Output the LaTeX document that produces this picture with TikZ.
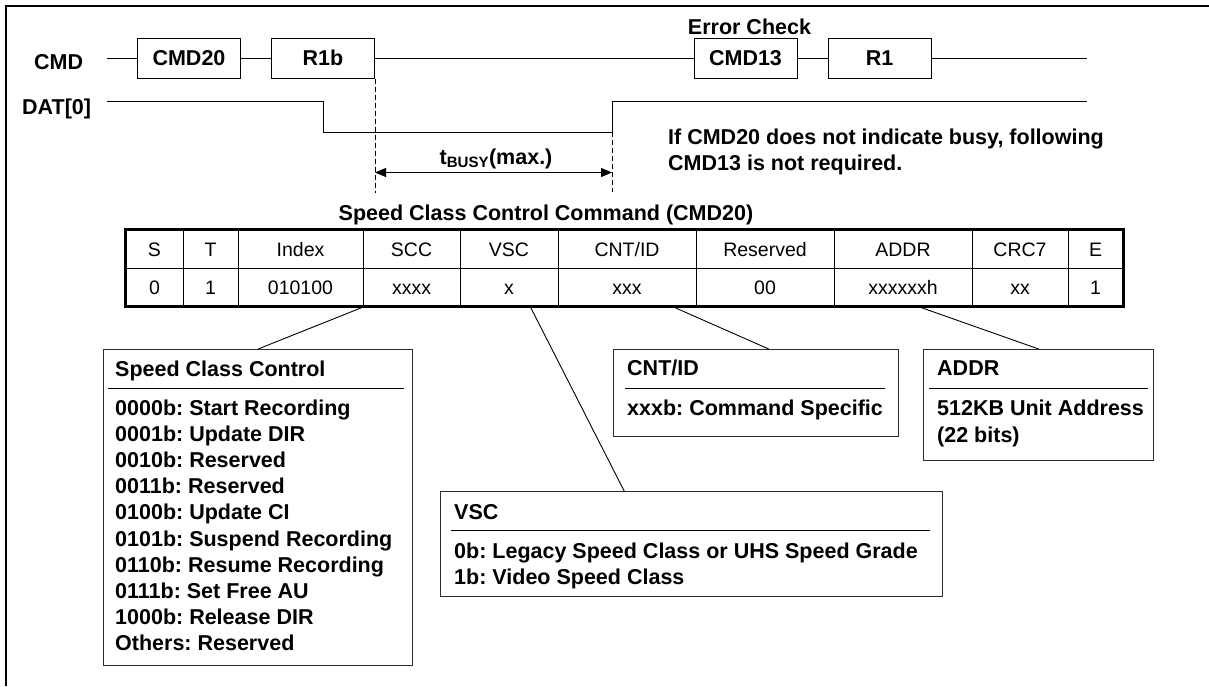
\documentclass[tikz,border=0pt]{standalone}
\usepackage{fontspec}
\setmainfont{Liberation Sans}
\usepackage{tikz}
\usetikzlibrary{arrows.meta,calc}
\frenchspacing
\newcommand{\labfont}{\fontsize{21.5}{26}\selectfont\bfseries}
\newcommand{\cellfont}{\fontsize{19.5}{23}\selectfont}
\definecolor{boxgray}{RGB}{45,45,45}
\tikzset{
  wire/.style={black, line width=1pt},
  busyedge/.style={black, line width=1pt, dash pattern=on 5pt off 3pt},
  outerframe/.style={black, line width=1.6pt},
  packet/.style={draw=black, line width=1pt, minimum width=103pt,
                 minimum height=40pt, inner sep=0pt, font=\labfont,
                 text height=15pt, text depth=0pt},
  lab/.style={font=\labfont, inner sep=0pt, text height=15pt, text depth=0pt},
  cell/.style={draw=black, line width=1pt, minimum height=38pt,
               inner sep=0pt, font=\cellfont, text height=14pt, text depth=0pt},
  fieldframe/.style={black, line width=2.2pt},
  infobox/.style={draw=boxgray, line width=1.2pt, anchor=north west, inner sep=0pt},
  boxline/.style={lab, anchor=west},
  rulesep/.style={black, line width=1pt},
  callout/.style={black, line width=0.9pt},
  busyspan/.style={{Triangle[length=11pt,width=9pt]}-{Triangle[length=11pt,width=9pt]},
                   line width=1pt},
}

\begin{document}
\begin{tikzpicture}[x=1pt,y=-1pt]
  \path[use as bounding box] (0,0) rectangle (1209,686);
  \draw[outerframe] (6,686) -- (6,6) -- (1209,6);

  % Bus timing.
  \node[lab, anchor=west] (cmdlab) at (34,62) {CMD};
  \node[lab, anchor=west] (datlab) at (22,107) {DAT[0]};
  \coordinate (cmdstart) at (107,58);
  \coordinate (cmdend) at (1087,58);
  \node[packet] (cmd20) at (189,58) {CMD20};
  \node[packet] (r1b) at (323,58) {R1b};
  \node[packet] (cmd13) at (745.5,58) {CMD13};
  \node[packet] (r1) at (879.5,58) {R1};
  \node[lab] (errcheck) at (749.5,27) {Error Check};
  \draw[wire] (cmdstart) -- (cmd20) -- (r1b) -- (cmd13) -- (r1) -- (cmdend);

  \coordinate (datstart) at (107,101);
  \coordinate (datfall) at (323,101);
  \coordinate (datrise) at (612,132);
  \coordinate (datend) at (1087,101);
  \draw[wire] (datstart) -- (datfall) |- (datrise) |- (datend);

  \draw[busyedge] (r1b.south east) -- ++(0,114);
  \draw[busyedge] (datrise) -- ++(0,60);
  \coordinate (tbusyl) at ($(r1b.south east)+(0,94)$);
  \coordinate (tbusyr) at (datrise |- tbusyl);
  \draw[busyspan] (tbusyl) -- (tbusyr);
  \node[lab] (tbusy) at (496,157) {t\textsubscript{BUSY}(max.)};

  \node[font=\labfont, align=left, anchor=north west, inner sep=0pt] (note) at (668,129)
    {If CMD20 does not indicate busy, following\\
     CMD13 is not required.};

  % Argument fields of CMD20.
  \node[lab] (tabtitle) at (546,213) {Speed Class Control Command (CMD20)};
  \foreach \nm/\hd/\val/\xa/\xb in {s/S/0/126/183, t/T/1/183/238,
      idx/Index/010100/238/363, scc/SCC/xxxx/363/460, vsc/VSC/x/460/558,
      cnt/{CNT/ID}/xxx/558/696, rsv/Reserved/00/696/834,
      addr/ADDR/xxxxxxh/834/972, crc/CRC7/xx/972/1068, e/E/1/1068/1123}{
    \node[cell, minimum width={(\xb-\xa)*1pt}] (h\nm) at ({(\xa+\xb)/2},249) {\hd};
    \node[cell, minimum width={(\xb-\xa)*1pt}] (v\nm) at ({(\xa+\xb)/2},287) {\val};
  }
  \draw[fieldframe] (hs.north west) rectangle (ve.south east);

  % Speed Class Control box.
  \node[infobox, minimum width=309pt, minimum height=316pt] (sccbox) at (103,349) {};
  \node[boxline] (scctitle) at (115,369) {Speed Class Control};
  \draw[rulesep] ([xshift=5pt,yshift=-39pt]sccbox.north west)
    -- ([xshift=-9pt,yshift=-39pt]sccbox.north east);
  \foreach \txt [count=\i from 0] in {0000b: Start Recording, 0001b: Update DIR,
      0010b: Reserved, 0011b: Reserved, 0100b: Update CI,
      0101b: Suspend Recording, 0110b: Resume Recording,
      0111b: Set Free AU, 1000b: Release DIR, Others: Reserved}
    \node[boxline] (sccl\i) at (115,{408+26.1*\i}) {\txt};

  % CNT/ID box.
  \node[infobox, minimum width=285pt, minimum height=87pt] (cntbox) at (613,349) {};
  \node[boxline] (cnttitle) at (627,368) {CNT/ID};
  \draw[rulesep] ([xshift=12pt,yshift=-39pt]cntbox.north west)
    -- ([xshift=-14pt,yshift=-39pt]cntbox.north east);
  \node[boxline] (cntl0) at (627,408) {xxxb: Command Specific};

  % ADDR box.
  \node[infobox, minimum width=230pt, minimum height=111pt] (addrbox) at (923,349) {};
  \node[boxline] (addrtitle) at (937,368) {ADDR};
  \draw[rulesep] ([xshift=6pt,yshift=-39pt]addrbox.north west)
    -- ([xshift=-6pt,yshift=-39pt]addrbox.north east);
  \node[boxline] (addrl0) at (937,408) {512KB Unit Address};
  \node[boxline] (addrl1) at (937,435) {(22 bits)};

  % VSC box.
  \node[infobox, minimum width=502pt, minimum height=105pt] (vscbox) at (440,491) {};
  \node[boxline] (vsctitle) at (454,512) {VSC};
  \draw[rulesep] ([xshift=11pt,yshift=-39pt]vscbox.north west)
    -- ([xshift=-13pt,yshift=-39pt]vscbox.north east);
  \node[boxline] (vscl0) at (454,551) {0b: Legacy Speed Class or UHS Speed Grade};
  \node[boxline] (vscl1) at (454,577) {1b: Video Speed Class};

  % Callouts from the fields.
  \draw[callout] ([xshift=2pt]vscc.south west) -- (sccbox.north);
  \draw[callout] ($(vvsc.south west)!0.714!(vvsc.south east)$)
    -- ($(vscbox.north west)!0.366!(vscbox.north east)$);
  \draw[callout] ($(vcnt.south west)!0.826!(vcnt.south east)$)
    -- ($(cntbox.north west)!0.544!(cntbox.north east)$);
  \draw[callout] ($(vaddr.south west)!0.609!(vaddr.south east)$) -- (addrbox.north);
\end{tikzpicture}
\end{document}
